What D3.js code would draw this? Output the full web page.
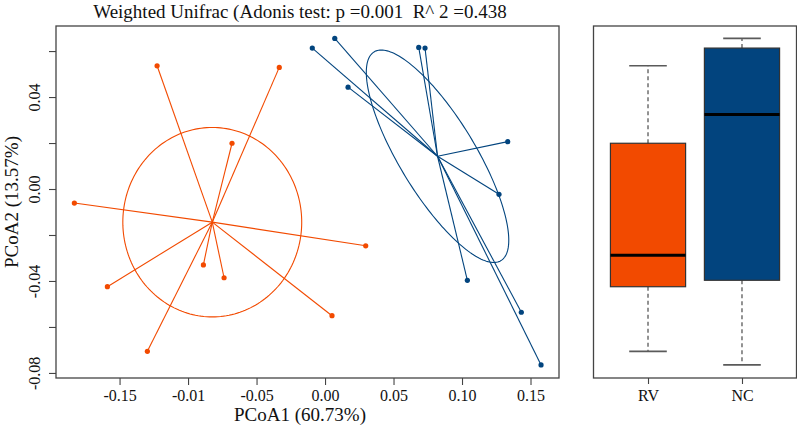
<!DOCTYPE html>
<html>
<head>
<meta charset="utf-8">
<script src="https://cdn.jsdelivr.net/npm/d3@7"></script>
<style>
  html, body { margin: 0; padding: 0; background: #fff; }
  svg { display: block; }
  text { font-family: "Liberation Serif", "Times New Roman", serif; fill: #111; white-space: pre; }
</style>
</head>
<body>
<svg id="chart" width="797" height="433"></svg>
<script>
// ---------------- data ----------------
const groups = ["RV", "NC"];
const groupColors = ["#F24A00", "#02447E"];

// PCoA coordinates of samples
const rvPC1 = [-0.1830, -0.1226, -0.0334, -0.0679, -0.0888, -0.0737, -0.1589, -0.1297, 0.0297, 0.0051];
const rvPC2 = [-0.0061, 0.0536, 0.0529, 0.0199, -0.0330, -0.0386, -0.0425, -0.0706, -0.0247, -0.0551];
const ncPC1 = [-0.0093, 0.0071, 0.0168, 0.0684, 0.0730, 0.1334, 0.1270, 0.1039, 0.1433, 0.1577];
const ncPC2 = [0.0613, 0.0655, 0.0443, 0.0616, 0.0613, 0.0206, -0.0023, -0.0397, -0.0536, -0.0765];

// ellipse shape per group: [half-extent PC1, half-extent PC2, correlation]
const rvEllipse = [0.0653, 0.0412, 0.0];
const ncEllipse = [0.0520, 0.0462, -0.79];

const xTickValues = [-0.15, -0.10, -0.05, 0.00, 0.05, 0.10, 0.15];
const xTickLabels = ["-0.15", "-0.01", "-0.05", "0.00", "0.05", "0.10", "0.15"];
const yTickValues = [0.06, 0.04, 0.02, 0.00, -0.02, -0.04, -0.06, -0.08];
const yTickLabels = ["", "0.04", "", "0.00", "", "-0.04", "", "-0.08"];

const titleText = "Weighted Unifrac (Adonis test: p =0.001  R^ 2 =0.438";
const xLabel = "PCoA1 (60.73%)";
const yLabel = "PCoA2 (13.57%)";

// ---------------- layout ----------------
const svg = d3.select("#chart");
const P = { left: 56, right: 559, top: 26, bottom: 378 };
const B = { left: 593.5, right: 796.5 };

const x = d3.scaleLinear().domain([-0.1964, 0.1708]).range([P.left, P.right]);
const y = d3.scaleLinear().domain([-0.0822, 0.0709]).range([P.bottom, P.top]);
const bx = d3.scaleLinear().domain([0.42, 2.58]).range([B.left, B.right]);

const groupData = [
  { name: groups[0], color: groupColors[0], pc1: rvPC1, pc2: rvPC2, ell: rvEllipse },
  { name: groups[1], color: groupColors[1], pc1: ncPC1, pc2: ncPC2, ell: ncEllipse }
];

// ---------------- title ----------------
svg.append("text")
  .attr("x", 300).attr("y", 18)
  .attr("text-anchor", "middle")
  .attr("xml:space", "preserve")
  .style("font-size", "19px")
  .text(titleText);

// ---------------- left panel ----------------
const gL = svg.append("g");

groupData.forEach(g => {
  const cx = d3.mean(g.pc1), cy = d3.mean(g.pc2);
  // spiders
  gL.append("g").selectAll("line").data(g.pc1.map((v, i) => [v, g.pc2[i]]))
    .join("line")
    .attr("x1", x(cx)).attr("y1", y(cy))
    .attr("x2", d => x(d[0])).attr("y2", d => y(d[1]))
    .attr("stroke", g.color).attr("stroke-width", 1.1);
  // ellipse
  const [sx, sy, r] = g.ell;
  const pts = d3.range(0, 200).map(k => {
    const t = 2 * Math.PI * k / 200;
    return [cx + sx * Math.cos(t), cy + sy * (r * Math.cos(t) + Math.sqrt(1 - r * r) * Math.sin(t))];
  });
  gL.append("path")
    .attr("d", d3.line().x(d => x(d[0])).y(d => y(d[1])).curve(d3.curveLinearClosed)(pts))
    .attr("fill", "none").attr("stroke", g.color).attr("stroke-width", 1.1);
  // points
  gL.append("g").selectAll("circle").data(g.pc1.map((v, i) => [v, g.pc2[i]]))
    .join("circle")
    .attr("cx", d => x(d[0])).attr("cy", d => y(d[1])).attr("r", 2.6)
    .attr("fill", g.color);
});

// axes
const xAxis = gL.append("g").attr("transform", `translate(0,${P.bottom})`)
  .call(d3.axisBottom(x).tickValues(xTickValues).tickSize(7).tickFormat((d, i) => xTickLabels[i]));
xAxis.select(".domain").remove();
xAxis.selectAll("line").attr("stroke", "#444").attr("stroke-width", 1.1);
xAxis.selectAll("text").attr("y", 23).attr("dy", 0).style("font-size", "16px")
  .attr("fill", "#111").attr("font-family", "Liberation Serif");

const yAxis = gL.append("g").attr("transform", `translate(${P.left},0)`)
  .call(d3.axisLeft(y).tickValues(yTickValues).tickSize(7).tickFormat((d, i) => yTickLabels[i]));
yAxis.select(".domain").remove();
yAxis.selectAll("line").attr("stroke", "#444").attr("stroke-width", 1.1);
yAxis.selectAll("text")
  .attr("transform", "rotate(-90)")
  .attr("x", 0).attr("y", -16.5).attr("dy", 0)
  .attr("text-anchor", "middle")
  .style("font-size", "16px").attr("fill", "#111").attr("font-family", "Liberation Serif");

gL.append("rect")
  .attr("x", P.left).attr("y", P.top)
  .attr("width", P.right - P.left).attr("height", P.bottom - P.top)
  .attr("fill", "none").attr("stroke", "#444").attr("stroke-width", 1.3);

svg.append("text")
  .attr("x", 300).attr("y", 421)
  .attr("text-anchor", "middle").style("font-size", "19px")
  .text(xLabel);

svg.append("text")
  .attr("transform", `translate(18,${(P.top + P.bottom) / 2}) rotate(-90)`)
  .attr("text-anchor", "middle").style("font-size", "19px")
  .text(yLabel);

// ---------------- right panel: boxplot of PC2 ----------------
function fivenum(arr) {
  const s = arr.slice().sort(d3.ascending);
  const n = s.length;
  const n4 = Math.floor((n + 3) / 2) / 2;
  const d = [1, n4, (n + 1) / 2, n + 1 - n4, n];
  return d.map(v => 0.5 * (s[Math.floor(v) - 1] + s[Math.ceil(v) - 1]));
}

const gB = svg.append("g");
groupData.forEach((g, i) => {
  const pos = i + 1;
  const f = fivenum(g.pc2);
  const iqr = f[3] - f[1];
  const lo = d3.min(g.pc2.filter(v => v >= f[1] - 1.5 * iqr));
  const hi = d3.max(g.pc2.filter(v => v <= f[3] + 1.5 * iqr));
  // whiskers
  [[f[3], hi], [f[1], lo]].forEach(([a, b]) => {
    gB.append("line")
      .attr("x1", bx(pos)).attr("x2", bx(pos))
      .attr("y1", y(a)).attr("y2", y(b))
      .attr("stroke", "#6f6f6f").attr("stroke-width", 1.5).attr("stroke-dasharray", "4,3");
    gB.append("line")
      .attr("x1", bx(pos - 0.2)).attr("x2", bx(pos + 0.2))
      .attr("y1", y(b)).attr("y2", y(b))
      .attr("stroke", "#5a5a5a").attr("stroke-width", 1.6);
  });
  // box
  gB.append("rect")
    .attr("x", bx(pos - 0.4)).attr("width", bx(pos + 0.4) - bx(pos - 0.4))
    .attr("y", y(f[3])).attr("height", y(f[1]) - y(f[3]))
    .attr("fill", g.color).attr("stroke", "#333").attr("stroke-width", 1.2);
  // median
  gB.append("line")
    .attr("x1", bx(pos - 0.4)).attr("x2", bx(pos + 0.4))
    .attr("y1", y(f[2])).attr("y2", y(f[2]))
    .attr("stroke", "#000").attr("stroke-width", 3);
});

const bAxis = gB.append("g").attr("transform", `translate(0,${P.bottom})`)
  .call(d3.axisBottom(bx).tickValues([1, 2]).tickSize(6).tickFormat((d, i) => groups[i]));
bAxis.select(".domain").remove();
bAxis.selectAll("line").attr("stroke", "#444").attr("stroke-width", 1.1);
bAxis.selectAll("text").attr("y", 23).attr("dy", 0).style("font-size", "16px")
  .attr("fill", "#111").attr("font-family", "Liberation Serif");

gB.append("rect")
  .attr("x", B.left).attr("y", P.top)
  .attr("width", B.right - B.left).attr("height", P.bottom - P.top)
  .attr("fill", "none").attr("stroke", "#444").attr("stroke-width", 1.3);
</script>
</body>
</html>
